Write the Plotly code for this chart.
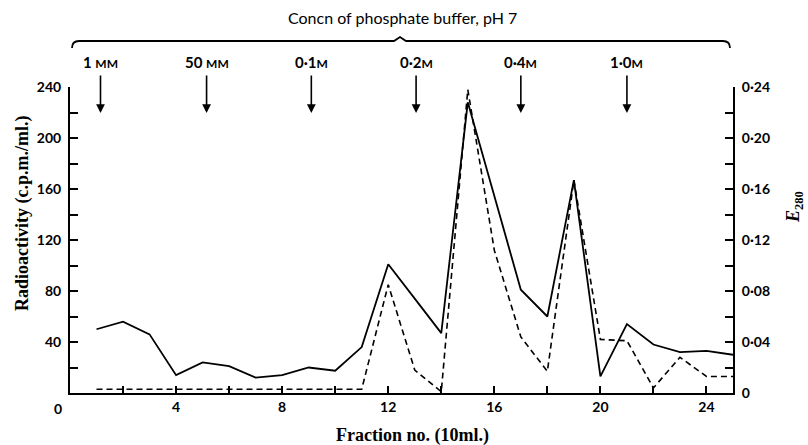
import plotly.graph_objects as go

# ---- data ----
fractions = list(range(1, 26))
radioactivity = [50, 56, 46, 14, 24, 21, 12, 14, 20, 17.5, 36, 101, 74, 47,
                 228, 154, 81, 60, 167, 13, 54, 38, 32, 33, 30]
e280 = [0.003, 0.003, 0.003, 0.003, 0.003, 0.003, 0.003, 0.003, 0.003, 0.003,
        0.003, 0.085, 0.018, 0.001, 0.238, 0.112, 0.044, 0.017, 0.167, 0.042,
        0.041, 0.004, 0.028, 0.013, 0.013]
buffer_x = [1.15, 5.15, 9.1, 13.05, 17.0, 21.0]
buffer_labels = ["1 <span style='font-size:12px'>MM</span>",
                 "50 <span style='font-size:12px'>MM</span>",
                 "0·1<span style='font-size:12px'>M</span>",
                 "0·2<span style='font-size:12px'>M</span>",
                 "0·4<span style='font-size:12px'>M</span>",
                 "1·0<span style='font-size:12px'>M</span>"]
x_ticks = [4, 8, 12, 16, 20, 24]
y_ticks = [40, 80, 120, 160, 200, 240]
y2_ticks = [0, 0.04, 0.08, 0.12, 0.16, 0.20, 0.24]
y2_ticktext = ["0", "0·04", "0·08", "0·12", "0·16", "0·20", "0·24"]

W, H = 808, 445
ML, MR, MT, MB = 70, 75, 87, 52
PW, PH = W - ML - MR, H - MT - MB


def px(x):
    return (x - ML) / PW


def py(y):
    return (H - MB - y) / PH


SANS = "Lato"
SERIF = "Liberation Serif"

fig = go.Figure()
fig.add_trace(go.Scatter(x=fractions, y=radioactivity, mode="lines",
                         line=dict(color="black", width=1.8), showlegend=False))
fig.add_trace(go.Scatter(x=fractions, y=e280, mode="lines", yaxis="y2",
                         line=dict(color="black", width=1.6, dash="6px,4px"),
                         showlegend=False))

tickfont = dict(family=SANS, size=14, color="black", weight="bold")

fig.update_layout(
    width=W, height=H,
    margin=dict(l=ML, r=MR, t=MT, b=MB, autoexpand=False),
    paper_bgcolor="white", plot_bgcolor="white",
    xaxis=dict(range=[0, 25], showgrid=False, zeroline=False, automargin=False,
               showline=True, linecolor="black", linewidth=2,
               tickmode="array", tickvals=x_ticks, ticks="inside",
               ticklen=7, tickwidth=1.5, tickcolor="black", tickfont=tickfont,
               minor=dict(dtick=2, tick0=0, ticks="inside", ticklen=7,
                          tickwidth=1.5, tickcolor="black")),
    yaxis=dict(range=[0, 240], showgrid=False, zeroline=False, automargin=False,
               showline=True, linecolor="black", linewidth=2,
               tickmode="array", tickvals=y_ticks, ticks="inside",
               ticklen=8, tickwidth=1.5, tickcolor="black", tickfont=tickfont,
               ticklabelstandoff=4,
               minor=dict(dtick=20, tick0=0, ticks="inside", ticklen=8,
                          tickwidth=1.5, tickcolor="black")),
    yaxis2=dict(range=[0, 0.24], overlaying="y", side="right", anchor="x",
                showgrid=False, zeroline=False, automargin=False,
                showline=True, linecolor="black", linewidth=2,
                tickmode="array", tickvals=y2_ticks, ticktext=y2_ticktext,
                ticks="inside", ticklen=8, tickwidth=1.5, tickcolor="black",
                tickfont=tickfont, ticklabelstandoff=4,
                minor=dict(dtick=0.02, tick0=0, ticks="inside", ticklen=8,
                           tickwidth=1.5, tickcolor="black")),
)

C = dict(xanchor="center", yanchor="middle")
annotations = []
# top title
annotations.append(dict(text="Concn of phosphate buffer, pH 7", x=px(402), y=py(18),
                        xref="paper", yref="paper", showarrow=False,
                        font=dict(family=SANS, size=16, color="black"), **C))
# arrows and labels
for bx, lab in zip(buffer_x, buffer_labels):
    annotations.append(dict(x=bx, y=py(113), xref="x", yref="paper", text="",
                            showarrow=True, ax=0, ay=-39, arrowhead=2,
                            arrowsize=1.1, arrowwidth=1.6, arrowcolor="black"))
    annotations.append(dict(x=bx, y=py(62), xref="x", yref="paper", text=lab,
                            showarrow=False,
                            font=dict(family=SANS, size=15, color="black",
                                      weight="bold"), **C))
# origin label
annotations.append(dict(text="0", x=px(58), y=py(408), xref="paper", yref="paper",
                        showarrow=False, font=tickfont, **C))
# axis titles
annotations.append(dict(text="Radioactivity (c.p.m./ml.)", x=px(22), y=py(214),
                        xref="paper", yref="paper", showarrow=False, textangle=-90,
                        font=dict(family=SERIF, size=18, color="black", weight="bold"),
                        **C))
annotations.append(dict(text="Fraction no. (10ml.)", x=px(412), y=py(435),
                        xref="paper", yref="paper", showarrow=False,
                        font=dict(family=SERIF, size=18, color="black", weight="bold"),
                        **C))
annotations.append(dict(text="<i>E</i><sub>280</sub>", x=px(794), y=py(207),
                        xref="paper", yref="paper", showarrow=False, textangle=-90,
                        font=dict(family=SERIF, size=18, color="black", weight="bold"),
                        **C))
fig.update_layout(annotations=annotations)

# brace
path = (f"M {px(72)} {py(48)} Q {px(72)} {py(41)} {px(79)} {py(41)} "
        f"L {px(394)} {py(41)} L {px(400)} {py(37)} L {px(406)} {py(41)} "
        f"L {px(723)} {py(41)} Q {px(730)} {py(41)} {px(730)} {py(48)}")
fig.add_shape(type="path", path=path, xref="paper", yref="paper",
              line=dict(color="black", width=1.8))

fig.write_html("out.html", config={"displayModeBar": False},
               post_script="document.body.style.margin='0';"
                           "document.body.style.overflow='hidden';")
